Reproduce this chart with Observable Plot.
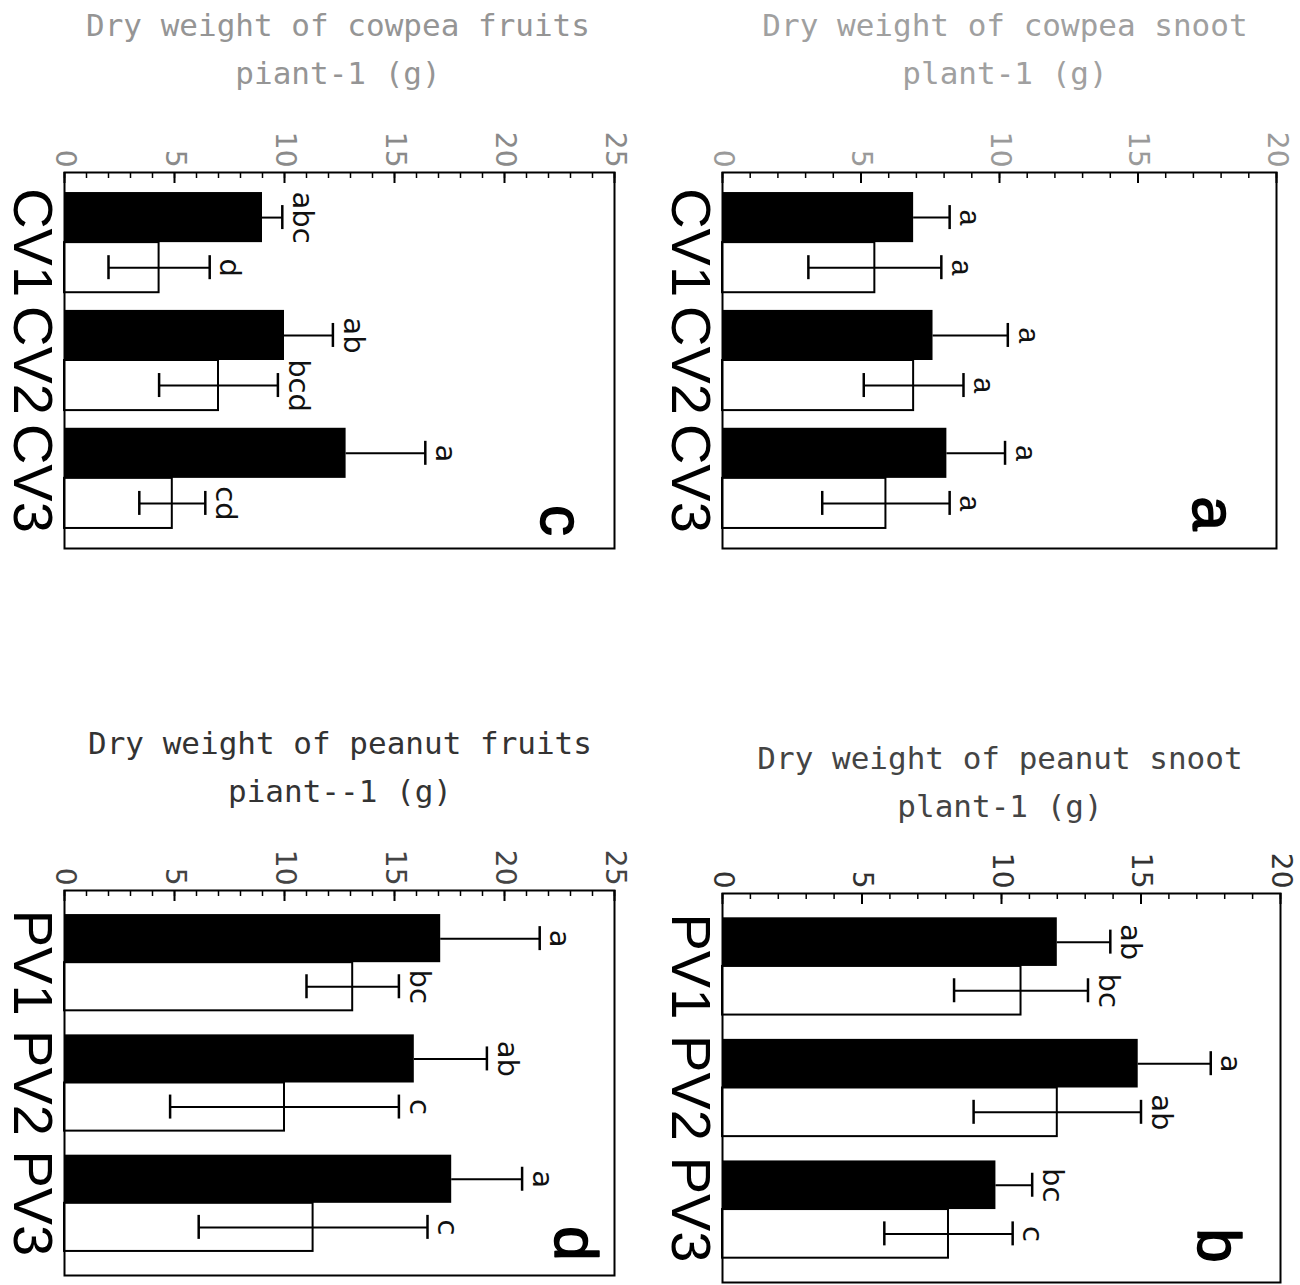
<!DOCTYPE html>
<html>
<head>
<meta charset="utf-8">
<script src="https://cdn.jsdelivr.net/npm/d3@7"></script>
<script src="https://cdn.jsdelivr.net/npm/@observablehq/plot@0.6"></script>
<style>
  html, body { margin: 0; padding: 0; background: #fff; }
  body { width: 1300px; height: 1285px; position: relative; overflow: hidden; }
  .panel { position: absolute; }
  .title { position: absolute; text-align: center; font-family: "DejaVu Sans Mono", monospace; font-size: 31px; line-height: 48px; white-space: pre; }
</style>
</head>
<body>
<script>
// ---------------- DATA ----------------
const cowpeaCats = ["CV1", "CV2", "CV3"];
const peanutCats = ["PV1", "PV2", "PV3"];
const fruitTicks = [0, 5, 10, 15, 20, 25];
const shootTicks = [0, 5, 10, 15, 20];

// (c) cowpea fruits
const cowpeaFruitBlack = [9.0, 10.0, 12.8];
const cowpeaFruitBlackErr = [0.9, 2.2, 3.6];
const cowpeaFruitBlackLetters = ["abc", "ab", "a"];
const cowpeaFruitWhite = [4.3, 7.0, 4.9];
const cowpeaFruitWhiteErr = [2.3, 2.7, 1.5];
const cowpeaFruitWhiteLetters = ["d", "bcd", "cd"];

// (a) cowpea shoot
const cowpeaShootBlack = [6.9, 7.6, 8.1];
const cowpeaShootBlackErr = [1.3, 2.7, 2.1];
const cowpeaShootBlackLetters = ["a", "a", "a"];
const cowpeaShootWhite = [5.5, 6.9, 5.9];
const cowpeaShootWhiteErr = [2.4, 1.8, 2.3];
const cowpeaShootWhiteLetters = ["a", "a", "a"];

// (d) peanut fruits
const peanutFruitBlack = [17.1, 15.9, 17.6];
const peanutFruitBlackErr = [4.5, 3.3, 3.2];
const peanutFruitBlackLetters = ["a", "ab", "a"];
const peanutFruitWhite = [13.1, 10.0, 11.3];
const peanutFruitWhiteErr = [2.1, 5.2, 5.2];
const peanutFruitWhiteLetters = ["bc", "c", "c"];

// (b) peanut shoot
const peanutShootBlack = [12.0, 14.9, 9.8];
const peanutShootBlackErr = [1.9, 2.6, 1.3];
const peanutShootBlackLetters = ["ab", "a", "bc"];
const peanutShootWhite = [10.7, 12.0, 8.1];
const peanutShootWhiteErr = [2.4, 3.0, 2.3];
const peanutShootWhiteLetters = ["bc", "ab", "c"];

const titleC = ["Dry weight of cowpea fruits", "piant-1 (g)"];
const titleA = ["Dry weight of cowpea snoot", "plant-1 (g)"];
const titleD = ["Dry weight of peanut fruits", "piant--1 (g)"];
const titleB = ["Dry weight of peanut snoot", "plant-1 (g)"];

// ---------------- PANELS ----------------
const panels = [
  { letter: "c", cats: cowpeaCats, ticks: fruitTicks, max: 25, title: titleC,
    black: cowpeaFruitBlack, blackErr: cowpeaFruitBlackErr, blackLab: cowpeaFruitBlackLetters,
    white: cowpeaFruitWhite, whiteErr: cowpeaFruitWhiteErr, whiteLab: cowpeaFruitWhiteLetters,
    lay: { left: 0, top: 100, width: 650, height: 460, mL: 64, mR: 36, mT: 72, mB: 12, pi: 0.15, po: 0.17,
           tickColor: "#8a8a8a", titleColor: "#959595", titleX: 338, titleTop: 1,
           letterFont: "DejaVu Sans", letterDx: -54, letterDy: -28 } },
  { letter: "a", cats: cowpeaCats, ticks: shootTicks, max: 20, title: titleA,
    black: cowpeaShootBlack, blackErr: cowpeaShootBlackErr, blackLab: cowpeaShootBlackLetters,
    white: cowpeaShootWhite, whiteErr: cowpeaShootWhiteErr, whiteLab: cowpeaShootWhiteLetters,
    lay: { left: 650, top: 100, width: 650, height: 460, mL: 72, mR: 24, mT: 72, mB: 12, pi: 0.15, po: 0.17,
           tickColor: "#9a9a9a", titleColor: "#a0a0a0", titleX: 1005, titleTop: 1,
           letterFont: "Liberation Mono", letterDx: -64, letterDy: -35 } },
  { letter: "d", cats: peanutCats, ticks: fruitTicks, max: 25, title: titleD,
    black: peanutFruitBlack, blackErr: peanutFruitBlackErr, blackLab: peanutFruitBlackLetters,
    white: peanutFruitWhite, whiteErr: peanutFruitWhiteErr, whiteLab: peanutFruitWhiteLetters,
    lay: { left: 0, top: 800, width: 650, height: 485, mL: 64, mR: 36, mT: 90, mB: 10, pi: 0.2, po: 0.2,
           tickColor: "#444", titleColor: "#333", titleX: 340, titleTop: 719,
           letterFont: "DejaVu Sans", letterDx: -40, letterDy: -32 } },
  { letter: "b", cats: peanutCats, ticks: shootTicks, max: 20, title: titleB,
    black: peanutShootBlack, blackErr: peanutShootBlackErr, blackLab: peanutShootBlackLetters,
    white: peanutShootWhite, whiteErr: peanutShootWhiteErr, whiteLab: peanutShootWhiteLetters,
    lay: { left: 650, top: 800, width: 650, height: 485, mL: 72, mR: 20, mT: 93, mB: 3, pi: 0.2, po: 0.2,
           tickColor: "#333", titleColor: "#444", titleX: 1000, titleTop: 734,
           letterFont: "DejaVu Sans", letterDx: -63, letterDy: -37 } }
];

function drawPanel(p) {
  const L = p.lay;
  const plotH = L.height - L.mT - L.mB;
  const band = d3.scaleBand().domain(p.cats).range([0, plotH]).paddingInner(L.pi).paddingOuter(L.po);
  const bw = band.bandwidth();
  const half = bw / 2, q = bw / 4, cap = 24;
  const rowsB = p.cats.map((c, i) => ({cat: c, v: p.black[i], e: p.blackErr[i], lab: p.blackLab[i]}));
  const rowsW = p.cats.map((c, i) => ({cat: c, v: p.white[i], e: p.whiteErr[i], lab: p.whiteLab[i]}));
  const minor = d3.range(0, p.max + 1);

  const chart = Plot.plot({
    width: L.width, height: L.height,
    marginLeft: L.mL, marginRight: L.mR, marginTop: L.mT, marginBottom: L.mB,
    style: {background: "transparent", fontFamily: "Liberation Sans", overflow: "visible"},
    x: {domain: [0, p.max], axis: null},
    y: {domain: p.cats, paddingInner: L.pi, paddingOuter: L.po, round: false, axis: null},
    marks: [
      Plot.barX(rowsB, {x: "v", y: "cat", fill: "black", insetBottom: half}),
      Plot.barX(rowsW, {x: "v", y: "cat", fill: "white", stroke: "black", strokeWidth: 2, insetTop: half}),
      // error bars (black series: upper half visible)
      Plot.ruleY(rowsB, {y: "cat", x1: "v", x2: d => d.v + d.e, dy: -q, stroke: "black", strokeWidth: 2}),
      Plot.tickX(rowsB, {x: d => d.v + d.e, y: "cat", insetTop: q - cap / 2, insetBottom: 3 * q - cap / 2, stroke: "black", strokeWidth: 2.5}),
      // error bars (white series)
      Plot.ruleY(rowsW, {y: "cat", x1: d => d.v - d.e, x2: d => d.v + d.e, dy: q, stroke: "black", strokeWidth: 2}),
      Plot.tickX(rowsW, {x: d => d.v + d.e, y: "cat", insetTop: 3 * q - cap / 2, insetBottom: q - cap / 2, stroke: "black", strokeWidth: 2.5}),
      Plot.tickX(rowsW, {x: d => d.v - d.e, y: "cat", insetTop: 3 * q - cap / 2, insetBottom: q - cap / 2, stroke: "black", strokeWidth: 2.5}),
      // significance letters
      Plot.text(rowsB, {x: d => d.v + d.e, y: "cat", text: "lab", dy: -q, dx: 20, rotate: 90,
        textAnchor: "middle", lineAnchor: "middle", fontSize: 29, fontFamily: L.letterFont, fill: "#111"}),
      Plot.text(rowsW, {x: d => d.v + d.e, y: "cat", text: "lab", dy: q, dx: 20, rotate: 90,
        textAnchor: "middle", lineAnchor: "middle", fontSize: 29, fontFamily: L.letterFont, fill: "#111"}),
      // frame and inward ticks
      Plot.frame({stroke: "black", strokeWidth: 2}),
      Plot.tickX(minor, {x: d => d, insetBottom: plotH - 6, stroke: "black", strokeWidth: 1.5}),
      Plot.tickX(p.ticks, {x: d => d, insetBottom: plotH - 11, stroke: "black", strokeWidth: 2}),
      // value axis labels (rotated)
      Plot.axisX({anchor: "top", ticks: p.ticks, tickSize: 0, tickPadding: 5, tickRotate: 90,
        textAnchor: "end", lineAnchor: "middle", fontSize: 28, fontFamily: "DejaVu Sans",
        color: L.tickColor, label: null}),
      // category labels (rotated)
      Plot.text(p.cats, {y: d => d, frameAnchor: "left", dx: -33, rotate: 90,
        textAnchor: "middle", lineAnchor: "middle", fontSize: 56, fontFamily: "Liberation Sans", fill: "black"}),
      // panel letter
      Plot.text([p.letter], {text: d => d, frameAnchor: "bottom-right", dx: L.letterDx, dy: L.letterDy, rotate: 90,
        textAnchor: "middle", lineAnchor: "middle", fontSize: 62, fontFamily: "Liberation Sans",
        fill: "black", stroke: "black", strokeWidth: 1.5})
    ]
  });

  const wrap = document.createElement("div");
  wrap.className = "panel";
  wrap.style.left = L.left + "px";
  wrap.style.top = L.top + "px";
  wrap.appendChild(chart);
  document.body.appendChild(wrap);

  const t = document.createElement("div");
  t.className = "title";
  t.style.left = (L.titleX - 325) + "px";
  t.style.width = "650px";
  t.style.top = L.titleTop + "px";
  t.style.color = L.titleColor;
  t.textContent = p.title.join("\n");
  document.body.appendChild(t);
}

panels.forEach(drawPanel);
</script>
</body>
</html>
